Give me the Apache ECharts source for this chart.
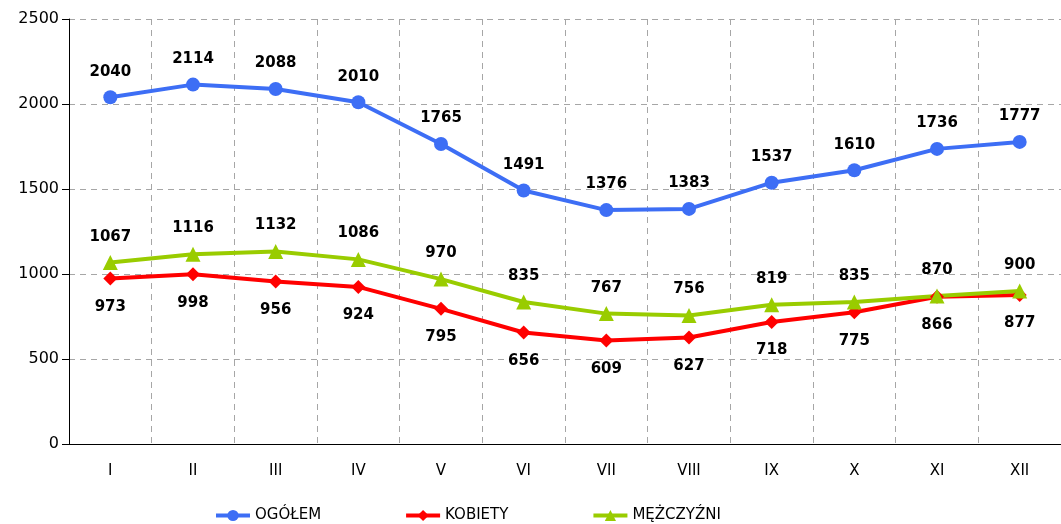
<!DOCTYPE html>
<html lang="pl">
<head>
    <meta charset="UTF-8">
    <title>Wykres miesięczny</title>
    <script src="https://cdn.jsdelivr.net/npm/echarts@6/dist/echarts.min.js"></script>
</head>
<body style="margin:0">
<div id="main" style="width:1061px;height:524px;"></div>
<script type="text/javascript">
    // dane
    var miesiace = ['I', 'II', 'III', 'IV', 'V', 'VI', 'VII', 'VIII', 'IX', 'X', 'XI', 'XII'];
    var ogolem = [2040, 2114, 2088, 2010, 1765, 1491, 1376, 1383, 1537, 1610, 1736, 1777];
    var kobiety = [973, 998, 956, 924, 795, 656, 609, 627, 718, 775, 866, 877];
    var mezczyzni = [1067, 1116, 1132, 1086, 970, 835, 767, 756, 819, 835, 870, 900];

    var myChart = echarts.init(document.getElementById('main'));

    var etykieta = {
        show: true,
        fontFamily: 'DejaVu Sans',
        fontWeight: 'bold',
        fontSize: 15,
        color: '#000'
    };

    var option = {
        animation: false,
        textStyle: {fontFamily: 'DejaVu Sans'},
        grid: {left: 69, top: 19, width: 1000, height: 425},
        legend: {
            top: 503,
            left: 209,
            itemWidth: 34,
            itemHeight: 14,
            itemGap: 83,
            lineStyle: {width: 4},
            textStyle: {fontSize: 15, color: '#000', fontFamily: 'DejaVu Sans'},
            data: ['OGÓŁEM', 'KOBIETY', 'MĘŻCZYŹNI']
        },
        xAxis: {
            type: 'category',
            data: miesiace,
            boundaryGap: true,
            axisLine: {lineStyle: {color: '#000'}},
            axisTick: {length: 6, lineStyle: {color: '#000'}},
            axisLabel: {color: '#000', fontSize: 15, margin: 20},
            splitLine: {show: true, lineStyle: {color: '#a6a6a6', type: [6, 5]}}
        },
        yAxis: {
            type: 'value',
            min: 0,
            max: 2500,
            interval: 500,
            axisLine: {show: true, lineStyle: {color: '#000'}},
            axisTick: {show: true, length: 7, lineStyle: {color: '#000'}},
            axisLabel: {color: '#000', fontSize: 16, margin: 10, formatter: function (v) { return String(v); }},
            splitLine: {lineStyle: {color: '#a6a6a6', type: [6, 5]}}
        },
        series: [
            {
                name: 'OGÓŁEM',
                type: 'line',
                data: ogolem,
                symbol: 'circle',
                symbolSize: 14,
                lineStyle: {width: 4, color: '#3D6EF5'},
                itemStyle: {color: '#3D6EF5'},
                label: Object.assign({}, etykieta, {position: 'top', distance: 11})
            },
            {
                name: 'KOBIETY',
                type: 'line',
                data: kobiety,
                symbol: 'diamond',
                symbolSize: 14,
                lineStyle: {width: 4, color: '#FF0000'},
                itemStyle: {color: '#FF0000'},
                label: Object.assign({}, etykieta, {position: 'bottom', distance: 14})
            },
            {
                name: 'MĘŻCZYŹNI',
                type: 'line',
                data: mezczyzni,
                symbol: 'triangle',
                symbolSize: 15,
                lineStyle: {width: 4, color: '#99CC00'},
                itemStyle: {color: '#99CC00'},
                label: Object.assign({}, etykieta, {position: 'top', distance: 11})
            }
        ]
    };

    myChart.setOption(option);
</script>
</body>
</html>
